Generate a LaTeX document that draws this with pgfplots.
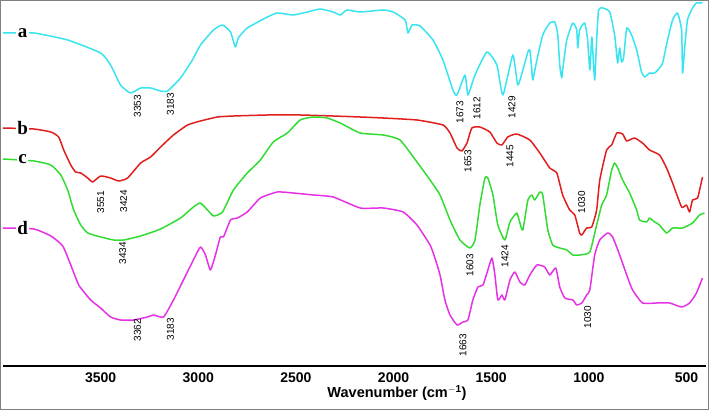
\documentclass[border=0pt]{standalone}
\usepackage{pgfplots}
\pgfplotsset{compat=1.18}
\usepackage{fontspec}
\setmainfont{Liberation Sans}
\newfontfamily\lettfont{Liberation Serif}

\definecolor{ca}{RGB}{55,228,240}
\definecolor{cb}{RGB}{225,30,30}
\definecolor{cc}{RGB}{50,220,50}
\definecolor{cd}{RGB}{228,50,228}

\begin{document}
\begin{tikzpicture}
\useasboundingbox (0,0) rectangle (709pt,410pt);
\draw[black!50, line width=1.3pt] (0.8pt,0.8pt) rectangle (708.2pt,409.2pt);
\begin{axis}[
  at={(3pt,44pt)},
  scale only axis,
  width=703pt, height=363pt,
  x dir=reverse,
  xmin=400, xmax=4000,
  ymin=0, ymax=363,
  axis x line*=bottom,
  axis y line=none,
  axis line style={black, line width=1.4pt},
  xtick={500,1000,1500,2000,2500,3000,3500},
  xticklabels={500,1000,1500,2000,2500,3000,3500},
  major tick length=0pt,
  xticklabel style={font=\bfseries\fontsize{14}{14}\selectfont, anchor=center, yshift=-12pt},
  clip=false,
  every axis plot/.append style={line width=1.5pt, line join=round, mark=none, smooth, tension=0.3},
]
% curve a
\addplot[ca] coordinates {
(4000,333) (3842,333) (3669,326) (3500,313) (3449,301) (3398,281) (3347,273)
(3295,278) (3244,278) (3193,275) (3157,275) (3091,288) (3030,306) (2989,321)
(2922,336) (2876,341) (2835,334) (2810,319) (2795,328) (2749,338) (2646,349)
(2595,353) (2513,351) (2442,354) (2375,357) (2309,354) (2273,351) (2238,356)
(2171,354) (2053,356) (2002,354) (1941,346) (1926,333) (1905,341) (1864,340)
(1798,326) (1747,306) (1696,276) (1675,271) (1634,291) (1619,271) (1583,291)
(1522,314) (1471,301) (1440,271) (1389,311) (1364,281) (1338,296) (1312,314)
(1302,316) (1292,296) (1287,286) (1266,306) (1236,331) (1200,343) (1174,344)
(1159,331) (1149,301) (1139,288) (1134,296) (1113,326) (1082,343) (1062,336)
(1057,318) (1047,336) (1021,343) (1006,326) (995,296) (985,329) (980,316)
(970,286) (960,326) (950,356) (929,358) (893,354) (868,331) (857,311)
(852,303) (842,318) (832,304) (822,308) (806,338) (781,331) (755,316)
(730,294) (714,289) (689,293) (663,293) (638,298) (622,303) (597,326)
(571,346) (546,353) (525,336) (520,293) (510,316) (495,346) (469,358)
(449,363) (418,363)
};
% curve b
\addplot[cb] coordinates {
(4000,238) (3842,237) (3755,234) (3715,229) (3689,216) (3653,201) (3628,194)
(3602,193) (3566,188) (3541,184) (3500,190) (3449,188) (3408,185) (3362,188)
(3295,203) (3244,209) (3193,219) (3127,231) (3055,241) (2989,245) (2902,249)
(2820,250) (2646,251) (2478,251) (2309,250) (2171,249) (2053,248) (1880,246)
(1747,241) (1711,233) (1675,218) (1650,215) (1624,223) (1599,238) (1558,239)
(1507,234) (1471,223) (1445,221) (1415,229) (1369,232) (1302,226) (1251,213)
(1200,198) (1164,193) (1134,171) (1098,156) (1072,151) (1047,133) (1036,131)
(1011,138) (985,139) (960,156) (944,186) (909,216) (883,221) (857,233)
(827,232) (806,225) (766,228) (725,223) (689,216) (638,211) (602,198)
(571,183) (525,159) (500,161) (484,154) (469,166) (443,168) (418,189)
};
% curve c
\addplot[cc] coordinates {
(4000,207) (3842,205) (3755,201) (3704,191) (3669,176) (3638,156) (3602,141)
(3566,133) (3500,129) (3433,126) (3382,126) (3295,130) (3193,137) (3091,148)
(3025,159) (2989,163) (2953,156) (2922,150) (2876,154) (2820,176) (2749,193)
(2682,206) (2616,224) (2544,233) (2478,246) (2411,249) (2340,248) (2273,243)
(2171,233) (2053,231) (1967,226) (1880,204) (1813,186) (1762,171) (1711,146)
(1660,126) (1609,118) (1583,126) (1558,161) (1532,188) (1517,188) (1491,171)
(1466,141) (1430,126) (1404,144) (1369,153) (1353,143) (1338,136) (1312,166)
(1292,171) (1277,166) (1251,174) (1236,171) (1210,136) (1185,121) (1149,118)
(1113,116) (1082,111) (1047,111) (995,114) (960,141) (934,161) (909,171)
(883,196) (868,203) (852,198) (827,186) (791,173) (755,156) (740,146)
(704,144) (689,148) (663,144) (638,141) (602,133) (571,138) (520,138)
(469,143) (433,151) (408,153)
};
% curve d
\addplot[cd] coordinates {
(4000,138) (3842,137) (3755,130) (3694,120) (3653,101) (3612,81) (3551,66)
(3500,58) (3449,49) (3398,46) (3331,46) (3260,49) (3229,51) (3178,49)
(3127,66) (3076,86) (3025,106) (2989,119) (2963,111) (2938,96) (2912,111)
(2887,129) (2871,129) (2835,146) (2800,148) (2749,154) (2682,168) (2595,174)
(2513,173) (2411,171) (2309,169) (2171,158) (2053,158) (1951,154) (1880,141)
(1813,121) (1788,108) (1762,91) (1737,66) (1711,51) (1675,41) (1645,44)
(1619,46) (1594,66) (1568,79) (1542,81) (1517,96) (1496,108) (1481,91)
(1466,66) (1445,71) (1430,66) (1404,86) (1379,94) (1353,84) (1328,81)
(1302,91) (1266,101) (1226,99) (1200,91) (1169,98) (1149,79) (1123,68)
(1082,66) (1062,61) (1036,63) (1011,71) (995,76) (970,111) (944,126)
(903,133) (878,129) (842,111) (806,91) (776,76) (725,63) (653,63)
(587,63) (525,59) (484,63) (449,73) (418,88)
};
% curve letters
\tikzset{lett/.style={fill=white, inner sep=1.5pt, font=\lettfont\bfseries\fontsize{19}{19}\selectfont}}
\node[lett] at (axis cs:3899,333) {a};
\node[lett] at (axis cs:3899,238) {b};
\node[lett] at (axis cs:3899,207) {c};
\node[lett] at (axis cs:3899,138) {d};
% peak labels
\tikzset{pk/.style={rotate=90, inner sep=0pt, font=\fontsize{10}{10}\selectfont}}
\node[pk] at (axis cs:3311,260) {3353};
\node[pk] at (axis cs:3142,262) {3183};
\node[pk] at (axis cs:1660,254) {1673};
\node[pk] at (axis cs:1573,258) {1612};
\node[pk] at (axis cs:1394,259) {1429};
\node[pk] at (axis cs:3500,164) {3551};
\node[pk] at (axis cs:3382,165) {3424};
\node[pk] at (axis cs:1619,205) {1653};
\node[pk] at (axis cs:1404,210) {1445};
\node[pk] at (axis cs:1036,164) {1030};
\node[pk] at (axis cs:3387,113) {3434};
\node[pk] at (axis cs:1609,101) {1603};
\node[pk] at (axis cs:1430,110) {1424};
\node[pk] at (axis cs:3311,36) {3362};
\node[pk] at (axis cs:3142,37) {3183};
\node[pk] at (axis cs:1645,21) {1663};
\node[pk] at (axis cs:1006,49) {1030};
\node[font=\bfseries\fontsize{14.5}{15}\selectfont] at ([yshift=-27pt]axis description cs:0.5605,0) {Wavenumber (cm$^{\mathbf{-1}}$)};
\end{axis}
\end{tikzpicture}
\end{document}
